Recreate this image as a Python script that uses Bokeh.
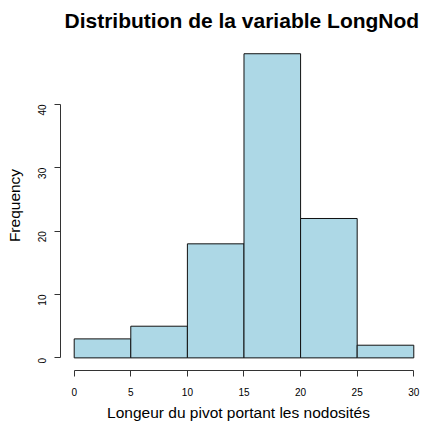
import math
from bokeh.plotting import figure
from bokeh.models import Range1d, FixedTicker
from bokeh.embed import file_html
from bokeh.resources import INLINE

bin_left = [0, 5, 10, 15, 20, 25]
bin_right = [5, 10, 15, 20, 25, 30]
counts = [3, 5, 18, 48, 22, 2]
x_ticks = [0, 5, 10, 15, 20, 25, 30]
y_ticks = [0, 10, 20, 30, 40]

FONT = "Liberation Sans"

p = figure(width=422, height=423, output_backend="svg", toolbar_location=None,
           x_range=Range1d(-1.21, 30.24), y_range=Range1d(-1.99, 50.09),
           min_border_left=60, min_border_right=6, min_border_top=40, min_border_bottom=51,
           title="Distribution de la variable LongNod")

p.quad(left=bin_left, right=bin_right, top=counts, bottom=0,
       fill_color="#ADD8E6", line_color="#111111", line_width=1)

p.title.text_font = FONT
p.title.text_font_size = "21px"
p.title.text_font_style = "bold"
p.title.align = "left"
p.title.vertical_align = "top"
p.title.offset = 4
p.title.standoff = 14
p.title.text_color = "black"

p.grid.visible = False
p.outline_line_color = None
p.background_fill_color = "white"
p.border_fill_color = "white"

for ax in (p.xaxis[0], p.yaxis[0]):
    ax.major_tick_out = 6
    ax.major_tick_in = 0
    ax.minor_tick_line_color = None
    ax.axis_line_color = "#333333"
    ax.major_tick_line_color = "#333333"
    ax.major_label_text_font = FONT
    ax.major_label_text_font_size = "10px"
    ax.major_label_text_color = "black"
    ax.axis_label_text_font = FONT
    ax.axis_label_text_font_size = "15.5px"
    ax.axis_label_text_font_style = "normal"
    ax.axis_label_text_color = "black"

p.xaxis.ticker = FixedTicker(ticks=x_ticks)
p.xaxis.bounds = (x_ticks[0], x_ticks[-1])
p.xaxis.axis_label = "Longeur du pivot portant les nodosités"
p.xaxis.major_label_standoff = 11
p.xaxis.axis_label_standoff = 5

p.yaxis.ticker = FixedTicker(ticks=y_ticks)
p.yaxis.bounds = (y_ticks[0], y_ticks[-1])
p.yaxis.axis_label = "Frequency"
p.yaxis.major_label_orientation = math.pi / 2
p.yaxis.major_label_standoff = 12
p.yaxis.axis_label_standoff = 9

open("out.html", "w").write(file_html(p, INLINE))
